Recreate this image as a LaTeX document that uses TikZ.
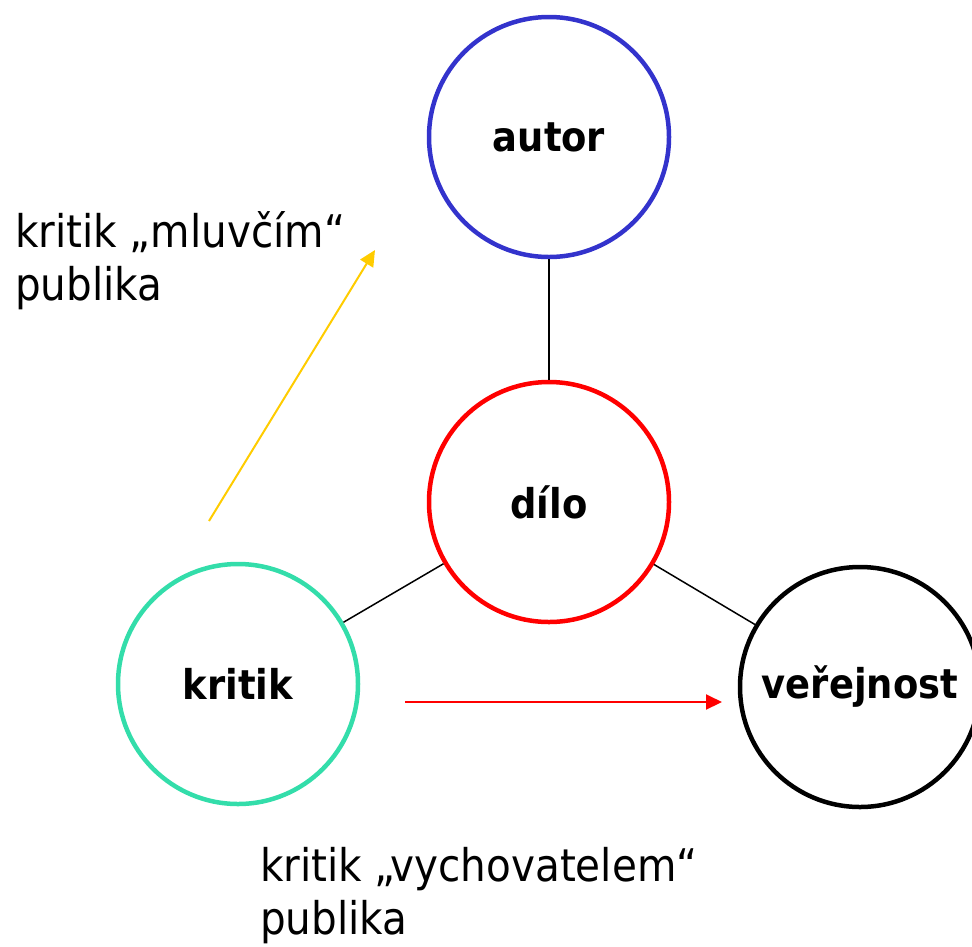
\documentclass[tikz,border=0pt]{standalone}
\usepackage{fontspec}
\setmainfont{DejaVu Sans Condensed}
\usetikzlibrary{arrows.meta}
\definecolor{cblue}{HTML}{3333CC}
\definecolor{cred}{HTML}{FF0000}
\definecolor{cteal}{HTML}{33DDAA}
\definecolor{cyellow}{HTML}{FFCC00}
\tikzset{
  ring/.style={circle, line width=4.5pt, minimum size=240pt, inner sep=0pt, font=\fontsize{41}{48}\selectfont\bfseries},
  link/.style={line width=1.5pt, black},
  lbl/.style={anchor=base west, align=left, inner sep=0pt, font=\fontsize{45}{53}\selectfont},
  arr/.style={line width=2pt, -{Triangle[length=16pt,width=15pt]}}
}
\begin{document}
\begin{tikzpicture}[x=1pt,y=-1pt]
\useasboundingbox (0,0) rectangle (972,946);
\node[ring, draw=cblue] (autor) at (549,137) {autor};
\node[ring, draw=cred] (dilo) at (549,502) {dílo};
\node[ring, draw=cteal] (kritik) at (238,684) {kritik};
\node[ring, draw=black] (verejnost) at (860,687) {veřejnost};
\draw[link] (autor) -- (dilo);
\draw[link] (dilo) -- (kritik);
\draw[link] (dilo) -- (verejnost);
\coordinate (ys) at (209,521);
\coordinate (ye) at (375,250);
\coordinate (rs) at (405,702);
\coordinate (re) at (722,702);
\draw[arr, cyellow] (ys) -- (ye);
\draw[arr, cred] (rs) -- (re);
\node[lbl] (t1) at (15,300) {kritik „mluvčím“\\publika};
\node[lbl] (t2) at (260,934) {kritik „vychovatelem“\\publika};
\end{tikzpicture}
\end{document}
